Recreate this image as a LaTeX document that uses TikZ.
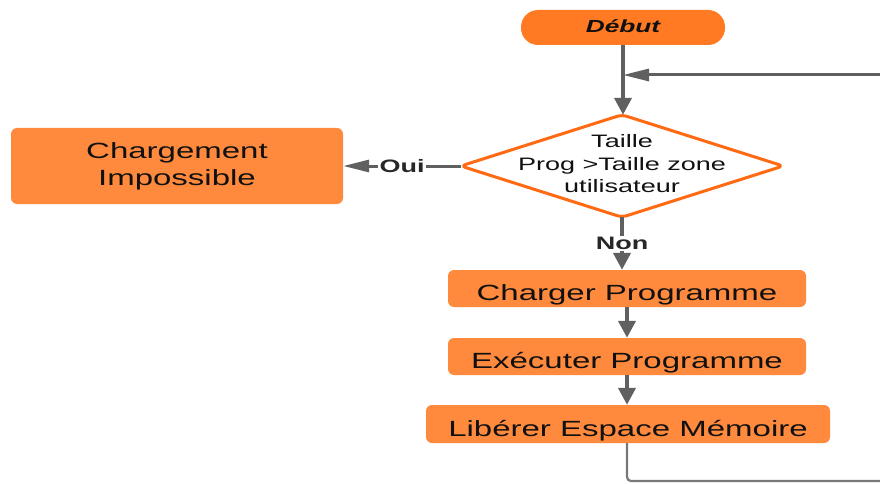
\documentclass[tikz,border=0pt]{standalone}
\usepackage{fontspec}
\setmainfont{Liberation Sans}[FakeStretch=1.5]
\usetikzlibrary{arrows.meta}
\definecolor{startorange}{HTML}{FF7A22}
\definecolor{boxorange}{HTML}{FF8A3D}
\definecolor{edgeorange}{HTML}{FF6A13}
\definecolor{linkgray}{HTML}{606060}
\definecolor{ink}{HTML}{111111}
\tikzset{
  procbox/.style={draw=none, fill=boxorange, rounded corners=6pt, inner sep=0pt,
    text=ink, font=\fontsize{22}{27}\selectfont, align=center},
  onebox/.style={procbox, text height=24pt, text depth=0pt},
  startbox/.style={draw=none, fill=startorange, rounded corners=17pt, inner sep=0pt,
    text=ink, text height=10pt, text depth=0pt,
    font=\fontsize{17.5}{20}\selectfont\bfseries\itshape},
  vlink/.style={draw=linkgray, line width=4pt, -{Triangle[length=17pt,width=17pt]}},
  hlink/.style={draw=linkgray, line width=3pt, -{Triangle[length=26pt,width=12pt]}},
  plainlink/.style={draw=linkgray!85, line width=2.2pt},
  tag/.style={fill=white, inner sep=1.5pt, text=linkgray!40!black,
    font=\fontsize{18}{20}\selectfont\bfseries},
}
\begin{document}
\begin{tikzpicture}[x=1pt,y=-1pt]
  \useasboundingbox (0,0) rectangle (880,484);
  \clip (0,0) rectangle (880,484);
  \fill[white] (0,0) rectangle (880,484);

  % start
  \node[startbox, minimum width=204pt, minimum height=35pt] (debut) at (623,27.5) {Début};

  % decision: rhombus drawn around a text holder
  \node[inner sep=0pt, minimum width=322pt, minimum height=102pt] (dec) at (622,166) {};
  \draw[edgeorange, line width=3pt, fill=white, rounded corners=5pt, line join=round]
    (dec.north) -- (dec.east) -- (dec.south) -- (dec.west) -- cycle;
  \node[inner sep=0pt, align=center, text=ink, font=\fontsize{18}{22.5}\selectfont,
        yshift=2pt] at (dec.center) {Taille\\Prog >Taille zone\\utilisateur};

  % process boxes
  \node[procbox, minimum width=332pt, minimum height=76pt] (fail) at (177,166)
    {Chargement\\Impossible};
  \node[onebox, minimum width=358pt, minimum height=37pt] (load) at (627,288.5)
    {Charger Programme};
  \node[onebox, minimum width=358pt, minimum height=37pt] (run) at (627,356.5)
    {Exécuter Programme};
  \node[onebox, minimum width=404pt, minimum height=38pt] (free) at (628,424)
    {Libérer Espace Mémoire};

  % connectors
  \coordinate (join) at (623,75);
  \draw[vlink] (debut.south) -- (debut.south |- dec.north);
  \draw[hlink] (dec.west) -- node[tag, pos=0.5] {Oui} (fail.east);
  \draw[vlink] (dec.south) -- node[tag, pos=0.5] {Non} (dec.south |- load.north);
  \draw[vlink] (load.south -| 627,0) -- (run.north -| 627,0);
  \draw[vlink] (run.south -| 627,0) -- (free.north -| 627,0);

  % loop back from the last step to the decision
  \coordinate (loopA) at (627,481);
  \coordinate (loopB) at (900,481);
  \coordinate (loopC) at (900,75);
  \draw[plainlink, rounded corners=4pt] (free.south -| loopA) -- (loopA) -- (loopB) -- (loopC);
  \draw[hlink] (loopC) -- (join);
\end{tikzpicture}
\end{document}
